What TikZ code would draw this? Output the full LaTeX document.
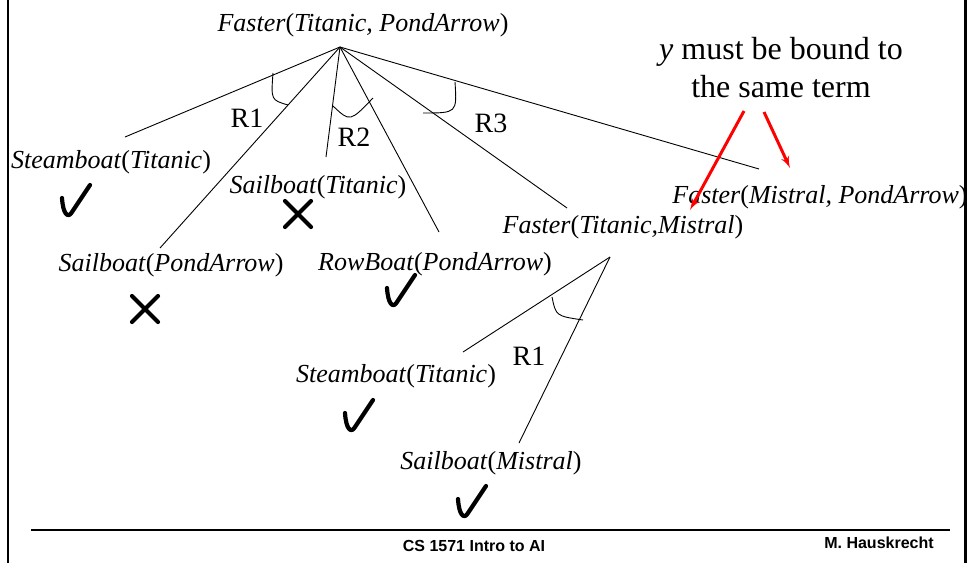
\documentclass[tikz,border=0pt]{standalone}
\usepackage{fontspec}
\setmainfont{Liberation Serif}
\newfontfamily\footfont{Liberation Sans}
\usetikzlibrary{arrows,calc}
\tikzstyle{line} = [draw, line width=0.9pt]
\tikzstyle{andarc} = [draw, line width=0.9pt]
\tikzstyle{fact} = [inner sep=0pt, font=\fontsize{26}{30}\selectfont]
\tikzstyle{rulename} = [inner sep=0pt, font=\fontsize{28}{32}\selectfont]
\tikzstyle{pointer} = [draw, red, line width=3pt, -latex']
\tikzstyle{pen} = [draw, line width=4.2pt, line cap=round, line join=round]
\tikzstyle{footer} = [inner sep=0pt, font=\footfont\bfseries\fontsize{16}{18}\selectfont]
\tikzset{
  okmark/.pic={\path[pen] (-5,-19) .. controls (-4,-3) and (1,2) .. (5,-5) -- (23,-32);},
  nomark/.pic={\path[pen] (-13,-13) -- (13,13) (-13,13) -- (13,-13);}
}
\newcommand{\fact}[2]{\textit{#1}(\textit{#2})}

\begin{document}
\begin{tikzpicture}[x=1pt, y=-1pt]
        \useasboundingbox (0,0) rectangle (967,563);
        % slide frame
        \draw[line width=2.5pt] (8,0) -- (8,563);
        \draw[line width=3pt] (965,0) -- (965,563);
        \draw[line width=2.5pt] (31,530) -- (950,530);
        % goals
        \node[fact] (goal) at (363,25) {\fact{Faster}{Titanic, PondArrow}};
        \node[fact] (steam1) at (111,162) {\fact{Steamboat}{Titanic}};
        \node[fact] (sailT) at (318,187) {\fact{Sailboat}{Titanic}};
        \node[fact] (sailP) at (171,265) {\fact{Sailboat}{PondArrow}};
        \node[fact] (rowP) at (435,264) {\fact{RowBoat}{PondArrow}};
        \node[fact] (fastTM) at (623,227) {\fact{Faster}{Titanic,Mistral}};
        \node[fact] (fastMP) at (820,197) {\fact{Faster}{Mistral, PondArrow}};
        \node[fact] (steam2) at (396,376) {\fact{Steamboat}{Titanic}};
        \node[fact] (sailM) at (491,463) {\fact{Sailboat}{Mistral}};
        \coordinate (root) at ([shift={(-23,22)}]goal.center);
        \coordinate (sub) at ([shift={(-13,30)}]fastTM.center);
        % rule branches
        \path[line] (root) -- ([shift={(14,-25)}]steam1.center);
        \path[line] (root) -- ([shift={(-11,-17)}]sailP.center);
        \path[line] (root) -- ([shift={(8,-30)}]sailT.center);
        \path[line] (root) -- ([shift={(4,-32)}]rowP.center);
        \path[line] (root) -- ([shift={(-56,-19)}]fastTM.center);
        \path[line] (root) -- ([shift={(-61,-28)}]fastMP.center);
        \path[line] (sub) -- ([shift={(67,-24)}]steam2.center);
        \path[line] (sub) -- ([shift={(28,-20)}]sailM.center);
        \path[andarc] (273,73) .. controls (271,100) .. (288,105);
        \path[andarc] (333,106) .. controls (350,122) .. (373,98);
        \path[andarc] (455,82) .. controls (457,113) .. (423,113);
        \path[andarc] (552,297) .. controls (556,316) .. (583,320);
        \node[rulename] (r1) at (247,118) {R1};
        \node[rulename] (r2) at (354,137) {R2};
        \node[rulename] (r3) at (491,123) {R3};
        \node[rulename] (r1b) at (529,356) {R1};
        % outcomes
        \pic at (67,217) {okmark};
        \pic at (392,307) {okmark};
        \pic at (350,432) {okmark};
        \pic at (463,518) {okmark};
        \pic at (298,214) {nomark};
        \pic at (145,309) {nomark};
        % binding note
        \node[align=center, inner sep=0pt, font=\fontsize{32}{38}\selectfont] (note) at (781,68) {\textit{y} must be bound to\\the same term};
        \path[pointer] ([shift={(-37,43)}]note.center) -- ([shift={(67,-17)}]fastTM.center);
        \path[pointer] ([shift={(-17,44)}]note.center) -- ([shift={(-30,-29)}]fastMP.center);
        % footer
        \node[footer] (course) at (474,546) {CS 1571 Intro to AI};
        \node[footer] (author) at (879,543) {M. Hauskrecht};
    \end{tikzpicture}
\end{document}
